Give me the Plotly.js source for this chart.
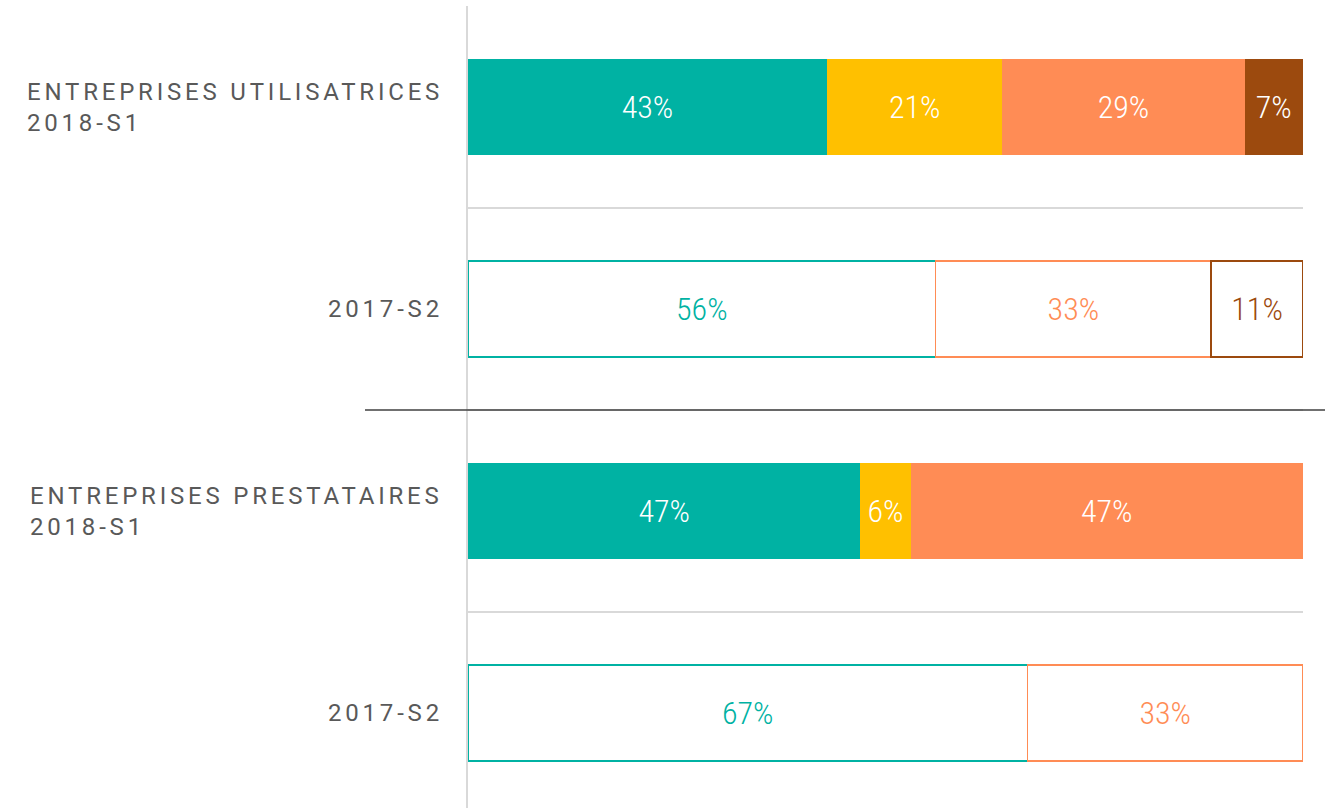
<!DOCTYPE html>
<html><head><meta charset="utf-8">
<script src="https://cdn.plot.ly/plotly-3.0.1.min.js"></script>
<style>html,body{margin:0;padding:0;background:#fff;}</style>
</head><body>
<div id="chart" style="width:1325px;height:808px;"></div>
<script>
// Data
const rowLabels = ["ENTREPRISES UTILISATRICES<br>2018-S1", "2017-S2", "ENTREPRISES PRESTATAIRES<br>2018-S1", "2017-S2"];
const rowPos = [0, 1, 2, 3];
const rowFilled = [true, false, true, false];
const seriesNames = ["Série 1", "Série 2", "Série 3", "Série 4"];
const seriesColors = ["#00B2A3", "#FFC000", "#FF8C55", "#9C4A0E"];
const serie1 = [43, 56, 47, 67];
const serie2 = [21, null, 6, null];
const serie3 = [29, 33, 47, 33];
const serie4 = [7, 11, null, null];
const allSeries = [serie1, serie2, serie3, serie4];

const labelFont = "Roboto Condensed, Liberation Sans Narrow, Roboto, sans-serif";

const traces = allSeries.map((vals, i) => {
  const c = seriesColors[i];
  return {
    type: "bar",
    orientation: "h",
    name: seriesNames[i],
    y: rowPos,
    x: vals,
    width: 0.475,
    text: vals.map(v => v == null ? "" : v + "%"),
    textposition: "inside",
    insidetextanchor: "middle",
    constraintext: "none",
    textfont: {
      family: labelFont,
      size: 32,
      weight: 300,
      color: rowFilled.map(f => f ? "#ffffff" : c)
    },
    marker: {
      color: rowFilled.map(f => f ? c : "#ffffff"),
      line: {
        color: c,
        width: rowFilled.map(f => f ? 0 : 1.5)
      }
    },
    hoverinfo: "skip"
  };
});

const annotations = rowLabels.map((t, i) => ({
  xref: "paper", yref: "y",
  x: 0, y: rowPos[i],
  xanchor: "right", yanchor: "middle",
  xshift: -23,
  align: "left",
  showarrow: false,
  text: '<span style="letter-spacing:3.8px">' + t + '</span>',
  font: {family: "Roboto, sans-serif", size: 24, weight: 400, color: "#595959"}
}));

const layout = {
  width: 1325, height: 808,
  margin: {l: 468, r: 22, t: 6, b: 0, pad: 0},
  barmode: "stack",
  showlegend: false,
  paper_bgcolor: "#ffffff",
  plot_bgcolor: "#ffffff",
  xaxis: {range: [0, 100], showgrid: false, zeroline: false, showticklabels: false, showline: false, fixedrange: true},
  yaxis: {
    range: [3.47, -0.5],
    tickvals: [-0.5, 0.5, 1.5, 2.5],
    showticklabels: false,
    ticks: "",
    showgrid: true, gridcolor: "#d9d9d9", gridwidth: 2,
    zeroline: false,
    showline: true, linecolor: "#d9d9d9", linewidth: 2,
    fixedrange: true
  },
  shapes: [{
    type: "line", xref: "paper", yref: "y",
    x0: -0.1234, x1: 1.0264, y0: 1.5, y1: 1.5,
    line: {color: "#404040", width: 1.5}
  }],
  annotations: annotations
};

Plotly.newPlot("chart", traces, layout, {displayModeBar: false, staticPlot: true});
</script>
</body></html>
